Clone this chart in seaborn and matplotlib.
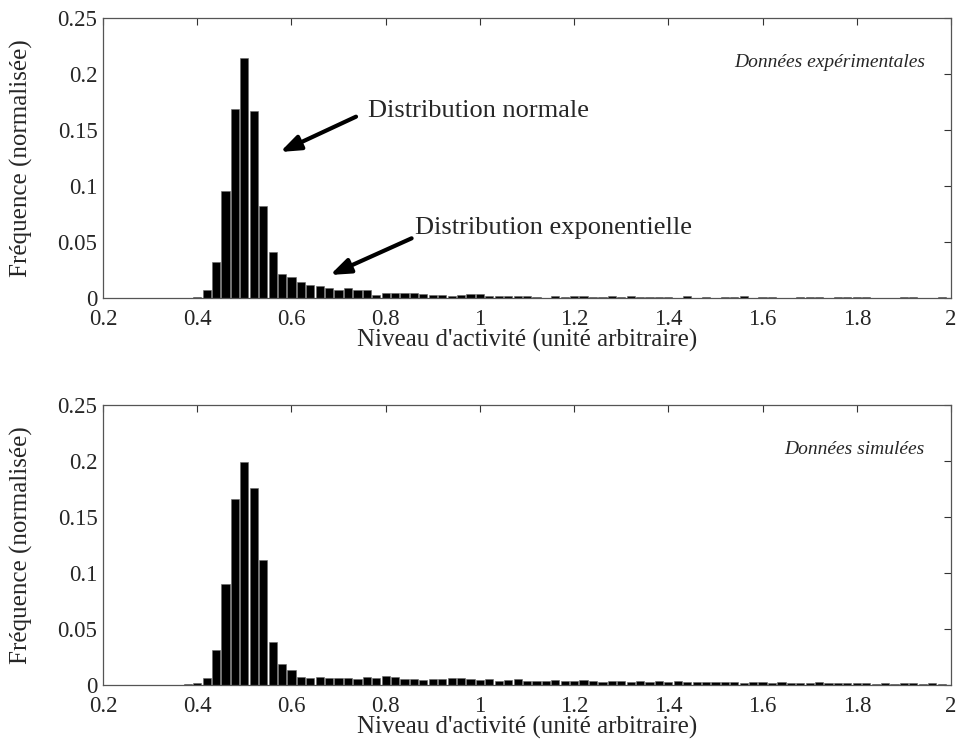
import numpy as np
import matplotlib
matplotlib.use("Agg")
import matplotlib.pyplot as plt
import seaborn as sns

# bin centres of the histograms (width 0.02)
centres = np.round(np.arange(0.38, 2.001, 0.02), 2)

# experimental data (top)
freq_exp = [
    0.0, 0.001, 0.0077, 0.032, 0.096, 0.169, 0.214, 0.167, 0.082, 0.041,
    0.022, 0.0187, 0.0142, 0.0122, 0.0111, 0.0088, 0.0074, 0.0096, 0.0070, 0.0070,
    0.0033, 0.0050, 0.0045, 0.0045, 0.0045, 0.0040, 0.0030, 0.0030, 0.0020, 0.0030,
    0.0036, 0.0036, 0.0020, 0.0020, 0.0020, 0.0020, 0.0020, 0.0010, 0.0, 0.0020,
    0.0010, 0.0020, 0.0020, 0.0010, 0.0012, 0.0022, 0.0012, 0.0022, 0.0012, 0.0012,
    0.0012, 0.0012, 0.0, 0.0022, 0.0, 0.0016, 0.0, 0.0012, 0.0012, 0.0022,
    0.0, 0.0016, 0.0012, 0.0, 0.0, 0.0012, 0.0016, 0.0012, 0.0, 0.0012,
    0.0012, 0.0016, 0.0012, 0.0, 0.0, 0.0, 0.0012, 0.0012, 0.0, 0.0,
    0.0012, 0.0,
]

# simulated data (bottom)
freq_sim = [
    0.001, 0.002, 0.006, 0.031, 0.090, 0.166, 0.199, 0.176, 0.1115, 0.0386,
    0.019, 0.0134, 0.0068, 0.0060, 0.0074, 0.0060, 0.0060, 0.0060, 0.0050, 0.0070,
    0.0065, 0.0080, 0.0070, 0.0055, 0.0050, 0.0045, 0.0050, 0.0055, 0.0060, 0.0065,
    0.0055, 0.0045, 0.0050, 0.0040, 0.0045, 0.0050, 0.0040, 0.0035, 0.0040, 0.0045,
    0.0035, 0.0040, 0.0045, 0.0035, 0.0030, 0.0040, 0.0035, 0.0030, 0.0035, 0.0030,
    0.0035, 0.0030, 0.0035, 0.0030, 0.0025, 0.0030, 0.0025, 0.0030, 0.0025, 0.0020,
    0.0025, 0.0030, 0.0020, 0.0025, 0.0020, 0.0015, 0.0020, 0.0025, 0.0015, 0.0020,
    0.0015, 0.0020, 0.0015, 0.0010, 0.0015, 0.0010, 0.0020, 0.0015, 0.0010, 0.0015,
    0.0010, 0.0,
]

xticks = [0.2, 0.4, 0.6, 0.8, 1.0, 1.2, 1.4, 1.6, 1.8, 2.0]
xticklabels = ["0.2", "0.4", "0.6", "0.8", "1", "1.2", "1.4", "1.6", "1.8", "2"]
yticks = [0, 0.05, 0.1, 0.15, 0.2, 0.25]
yticklabels = ["0", "0.05", "0.1", "0.15", "0.2", "0.25"]

sns.set_style("white")
plt.rcParams['font.family'] = ['Liberation Serif', 'DejaVu Serif']

fig = plt.figure(figsize=(9.62, 7.51), dpi=100)
ax1 = fig.add_axes([0.1071, 0.6028, 0.8815, 0.3732])
ax2 = fig.add_axes([0.1071, 0.0879, 0.8815, 0.3732])


def draw_hist(ax, values, label):
    sns.histplot(x=centres, weights=values, binwidth=0.02, binrange=(0.37, 2.01),
                 shrink=0.87, color='black', edgecolor='#666666', linewidth=0.4,
                 alpha=1, ax=ax)
    ax.set_xlim(0.2, 2)
    ax.set_ylim(0, 0.25)
    ax.set_xticks(xticks)
    ax.set_xticklabels(xticklabels)
    ax.set_yticks(yticks)
    ax.set_yticklabels(yticklabels)
    ax.tick_params(direction='in', top=True, right=True, length=5, width=0.8,
                   labelsize=16.5, color='#333333')
    ax.tick_params(axis='x', pad=8)
    ax.tick_params(axis='y', pad=4)
    for s in ax.spines.values():
        s.set_color('#555555')
        s.set_linewidth(0.9)
    ax.set_xlabel("Niveau d'activité (unité arbitraire)", fontsize=18, labelpad=-1)
    ax.set_ylabel("Fréquence (normalisée)", fontsize=18, labelpad=18)
    ax.text(0.969, 0.84, label, transform=ax.transAxes, ha='right', va='center',
            fontsize=14, style='italic')


draw_hist(ax1, freq_exp, "Données expérimentales")
draw_hist(ax2, freq_sim, "Données simulées")

arrow = dict(arrowstyle='-|>,head_length=1.2,head_width=0.45', color='black',
             lw=3, shrinkA=0, shrinkB=0)
ax1.annotate('', xy=(0.576, 0.1305), xytext=(0.737, 0.162), arrowprops=arrow)
ax1.text(0.7626, 0.167, "Distribution normale", fontsize=19, va='center', ha='left')
ax1.annotate('', xy=(0.682, 0.0208), xytext=(0.855, 0.0535), arrowprops=arrow)
ax1.text(0.8624, 0.0627, "Distribution exponentielle", fontsize=19, va='center', ha='left')

fig.savefig("out.png", dpi=100)
